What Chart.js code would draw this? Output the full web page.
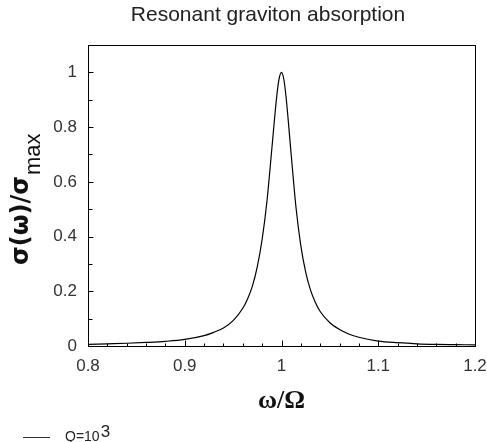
<!DOCTYPE html>
<html>
<head>
<meta charset="utf-8">
<script src="https://cdn.jsdelivr.net/npm/chart.js@4.4.1/dist/chart.umd.min.js"></script>
<style>
  html, body { margin: 0; padding: 0; background: #fff; }
</style>
</head>
<body>
<canvas id="chart" width="487" height="442"></canvas>
<script>
// curve: omega/Omega vs sigma/sigma_max
const omega = [0.80, 0.82, 0.84, 0.86, 0.88, 0.90, 0.92, 0.93, 0.94, 0.95, 0.96, 0.965, 0.97, 0.975, 0.98, 0.985, 0.99, 0.995, 0.9975, 1.0,
               1.0025, 1.005, 1.01, 1.015, 1.02, 1.025, 1.03, 1.035, 1.04, 1.05, 1.06, 1.07, 1.08, 1.10, 1.12, 1.14, 1.16, 1.18, 1.20];
const sigma = [0.006, 0.008, 0.010, 0.013, 0.017, 0.024, 0.038, 0.050, 0.066, 0.093, 0.138, 0.173, 0.22, 0.29, 0.39, 0.53, 0.72, 0.91, 0.976, 1.0,
               0.973, 0.90, 0.70, 0.506, 0.366, 0.27, 0.204, 0.159, 0.126, 0.085, 0.060, 0.043, 0.032, 0.018, 0.012, 0.008, 0.006, 0.005, 0.004];

const xTicks = [0.8, 0.9, 1.0, 1.1, 1.2];
const xMinor = [0.82, 0.84, 0.86, 0.88, 0.92, 0.94, 0.96, 0.98, 1.02, 1.04, 1.06, 1.08, 1.12, 1.14, 1.16, 1.18];
const yTicks = [0, 0.2, 0.4, 0.6, 0.8, 1.0];
const yMinor = [0.1, 0.3, 0.5, 0.7, 0.9];

const chartTitle = 'Resonant graviton absorption';
const legendLabel = 'Q=10';
const legendExp = '3';

const SANS = '"Liberation Sans", Arial, sans-serif';

// frame, inward ticks, titles and legend
const decor = {
  id: 'decor',
  afterDraw(chart) {
    const { ctx, chartArea: a, scales: { x, y } } = chart;
    ctx.save();
    ctx.strokeStyle = '#000';
    ctx.lineWidth = 1;
    ctx.strokeRect(Math.round(a.left) + 0.5, Math.round(a.top) + 0.5,
                   Math.round(a.right - a.left), Math.round(a.bottom - a.top));

    const bot = Math.round(a.bottom) + 0.5;
    const lft = Math.round(a.left) + 0.5;
    ctx.beginPath();
    xTicks.forEach(v => { const px = Math.round(x.getPixelForValue(v)) + 0.5; ctx.moveTo(px, bot); ctx.lineTo(px, bot - 6); });
    xMinor.forEach(v => { const px = Math.round(x.getPixelForValue(v)) + 0.5; ctx.moveTo(px, bot); ctx.lineTo(px, bot - 3); });
    yTicks.forEach(v => { const py = Math.round(y.getPixelForValue(v)) + 0.5; ctx.moveTo(lft, py); ctx.lineTo(lft + 5, py); });
    yMinor.forEach(v => { const py = Math.round(y.getPixelForValue(v)) + 0.5; ctx.moveTo(lft, py); ctx.lineTo(lft + 4, py); });
    ctx.stroke();

    // title
    ctx.fillStyle = '#222';
    ctx.font = '21px ' + SANS;
    ctx.textAlign = 'center';
    ctx.textBaseline = 'alphabetic';
    ctx.fillText(chartTitle, 268, 21);

    // x axis title
    ctx.fillStyle = '#111';
    ctx.font = 'bold 26px "Liberation Serif", serif';
    ctx.fillText('ω/Ω', (a.left + a.right) / 2, 408);

    // y axis title with subscript
    ctx.save();
    ctx.translate(28, 265);
    ctx.rotate(-Math.PI / 2);
    ctx.textAlign = 'left';
    ctx.font = 'bold 24px "DejaVu Sans", sans-serif';
    ctx.fillText('σ(ω)/σ', 0, 0);
    const w = ctx.measureText('σ(ω)/σ').width;
    ctx.font = '22px ' + SANS;
    ctx.fillText('max', w + 1, 12);
    ctx.restore();

    // legend
    ctx.strokeStyle = '#333';
    ctx.beginPath();
    ctx.moveTo(23, 437.5);
    ctx.lineTo(50, 437.5);
    ctx.stroke();
    ctx.fillStyle = '#222';
    ctx.textAlign = 'left';
    ctx.font = '14px ' + SANS;
    ctx.fillText(legendLabel, 65, 441);
    const lw = ctx.measureText(legendLabel).width;
    ctx.font = '17px ' + SANS;
    ctx.fillText(legendExp, 65 + lw + 1, 437);
    ctx.restore();
  }
};

const tickFmt = v => String(+(+v).toFixed(1));

new Chart(document.getElementById('chart'), {
  type: 'line',
  data: {
    datasets: [{
      data: omega.map((o, i) => ({ x: o, y: sigma[i] })),
      borderColor: '#000',
      borderWidth: 1.2,
      pointRadius: 0,
      fill: false,
      cubicInterpolationMode: 'monotone',
    }],
  },
  options: {
    responsive: false,
    animation: false,
    devicePixelRatio: 1,
    layout: { padding: { top: 45, right: 12, left: 0, bottom: 0 } },
    plugins: { legend: { display: false }, title: { display: false }, tooltip: { enabled: false } },
    scales: {
      x: {
        type: 'linear', min: 0.8, max: 1.2,
        afterBuildTicks: s => { s.ticks = xTicks.map(v => ({ value: v })); },
        afterFit: s => { s.height = 96; s.paddingLeft = 0; s.paddingRight = 0; },
        grid: { display: false, drawTicks: false },
        border: { display: false },
        ticks: { padding: 10, color: '#333', font: { family: SANS, size: 17 }, callback: tickFmt, maxRotation: 0 },
      },
      y: {
        type: 'linear', min: 0, max: 1.1,
        afterBuildTicks: s => { s.ticks = yTicks.map(v => ({ value: v })); },
        afterFit: s => { s.width = 88; s.paddingTop = 0; s.paddingBottom = 0; },
        grid: { display: false, drawTicks: false },
        border: { display: false },
        ticks: { padding: 11, color: '#333', font: { family: SANS, size: 17 }, callback: tickFmt },
      },
    },
  },
  plugins: [decor],
});
</script>
</body>
</html>
